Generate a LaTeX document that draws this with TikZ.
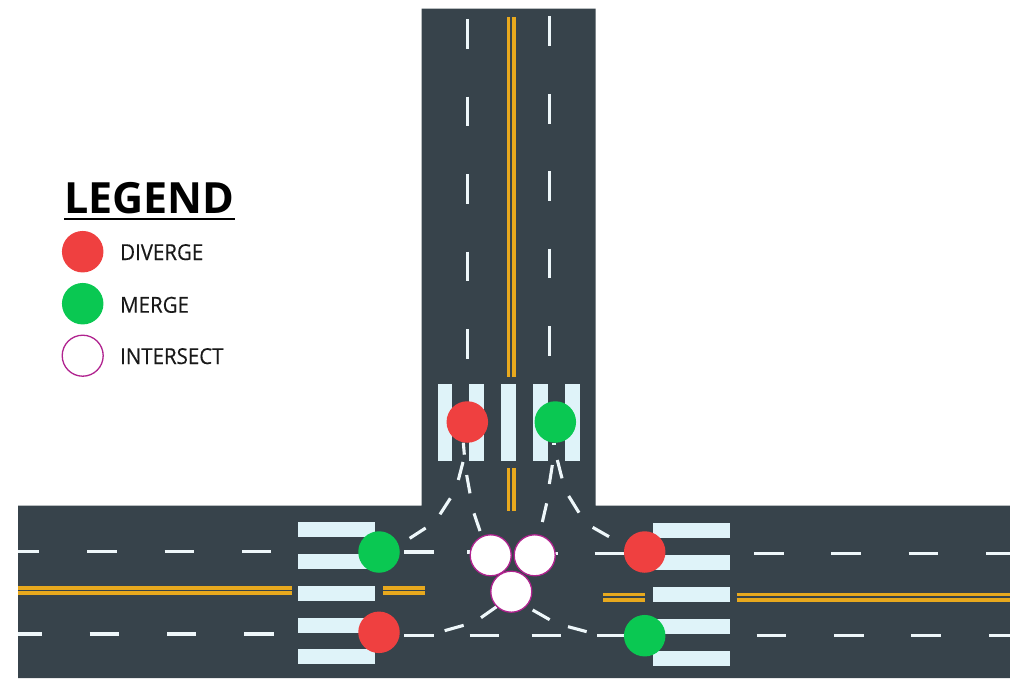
\documentclass[tikz,border=0pt]{standalone}
\usepackage{fontspec}
\setmainfont{Open Sans}
\newfontfamily\legfont[FakeStretch=0.93,FakeBold=0.25]{Open Sans}
\definecolor{road}{HTML}{37434B}
\definecolor{lane}{HTML}{EEF7FA}
\definecolor{bar}{HTML}{DFF3F9}
\definecolor{gold}{HTML}{E8A91E}
\definecolor{redc}{HTML}{EF4040}
\definecolor{greenc}{HTML}{0AC852}
\definecolor{purp}{HTML}{B0238F}
\tikzset{
  dashline/.style={draw=lane,line width=3.1pt},
  goldline/.style={draw=gold,line width=3.5pt},
  diverge/.style={circle,fill=redc,minimum size=41.5pt,inner sep=0pt},
  merge/.style={circle,fill=greenc,minimum size=41.5pt,inner sep=0pt},
  intersect/.style={circle,fill=white,draw=purp,line width=1.3pt,minimum size=41pt,inner sep=0pt},
  legendtext/.style={anchor=base west,inner sep=0pt,text=black!90,font=\fontsize{22}{24}\legfont},
  barbox/.style={fill=bar}
}
\begin{document}
\begin{tikzpicture}[x=1pt,y=-1pt]
\useasboundingbox (0,0) rectangle (1010,678);
% road
\fill[road] (421.5,8.5) -- (595.5,8.5) -- (595.5,505.5) -- (1010,505.5) -- (1010,678) -- (18,678) -- (18,505.5) -- (421.5,505.5) -- cycle;
% gold lines
\foreach \x in {508.7,514}{
  \draw[goldline] (\x,17) -- (\x,377);
  \draw[goldline] (\x,468.3) -- (\x,510.7);
}
\foreach \y in {588,593}{
  \draw[goldline] (18,\y) -- (291.7,\y);
  \draw[goldline] (383.3,\y) -- (425.3,\y);
}
\foreach \y in {594.7,600}{
  \draw[goldline] (603,\y) -- (645,\y);
  \draw[goldline] (736.7,\y) -- (1010,\y);
}
% lane dashes: vertical
\foreach \y in {19,96.7,174,251.5,329}{ \draw[dashline] (467.3,\y) -- ++(0,29.7); }
\foreach \y in {16.3,94,171.3,248.7,326}{ \draw[dashline] (549.3,\y) -- ++(0,29.7); }
% lane dashes: left
\draw[dashline] (18,551.7) -- (39.3,551.7);
\foreach \x in {87.3,164.7,242}{ \draw[dashline] (\x,551.7) -- ++(29.4,0); }
\draw[dashline] (18,634) -- (41.7,634);
\foreach \x in {89.7,167,244.3}{ \draw[dashline] (\x,634) -- ++(29.4,0); }
% lane dashes: right
\foreach \x in {754,831.3,908.7}{ \draw[dashline] (\x,553.3) -- ++(29.6,0); }
\draw[dashline] (986,553.3) -- (1010,553.3);
\foreach \x in {756.7,834,911.3}{ \draw[dashline] (\x,635.7) -- ++(29.6,0); }
\draw[dashline] (989,635.7) -- (1010,635.7);
% crosswalks
\foreach \x in {437.5,469,501,532.7,564.7}{ \fill[barbox] (\x,383.5) rectangle ++(14.8,77); }
\foreach \y in {522,554,585.7,617.7,649.3}{ \fill[barbox] (298.3,\y) rectangle ++(77,14.8); }
\foreach \y in {523.3,555.3,587.3,619,651}{ \fill[barbox] (652.7,\y) rectangle ++(77.3,14.8); }
% turning paths, in 3x coordinates of the centre crop
\begin{scope}[shift={(280,370)},x=0.33333pt,y=-0.33333pt]
\foreach \a/\b/\c/\d/\e in {
 550/218/553/254/0, 511/385/480/433/-8,
 560/315/570/370/0, 582/430/600/483/0,
 822/218/822/226/0,
 817/285/808/342/0, 800/400/787/456/0,
 373/546/461/546/0, 562/546/570/546/0,
 944/550/1032/550/0, 826/550/834/550/0,
 373/797/461/797/0, 569/797/657/797/0,
 951/797/1032/797/0, 755/797/843/797/0,
 549/276/535/330/0, 437/474/389/505/0,
 832/270/846/325/0, 866/378/897/428/0, 938/472/987/500/0,
 494/782/551/766/0, 603/743/650/710/0,
 920/785/864/770/0, 809/749/758/720/0}
 { \draw[dashline] (\a,\b) -- (\c,\d); }
\end{scope}
% conflict points
\node[diverge] (d1) at (467.3,422) {};
\node[merge] (m1) at (555.3,422) {};
\node[merge] (m2) at (379,552) {};
\node[diverge] (d2) at (379,632.3) {};
\node[diverge] (d3) at (644.7,552) {};
\node[merge] (m3) at (644.7,635.7) {};
\node[intersect] (i1) at (490.7,555.3) {};
\node[intersect] (i2) at (534.7,555.3) {};
\node[intersect] (i3) at (511.3,591.7) {};
% legend
\node[anchor=base west,inner sep=0pt,text=black,font=\fontsize{43}{46}\selectfont\bfseries] (title) at (64,213.5) {LEGEND};
\draw[black,line width=2.6pt] (64,219) -- (235,219);
\node[diverge] (ld) at (82.7,251.7) {};
\node[merge] (lm) at (82.7,303.7) {};
\node[intersect] (li) at (82.7,355.7) {};
\node[legendtext] (td) at (120,260) {DIVERGE};
\node[legendtext] (tm) at (120,312.7) {MERGE};
\node[legendtext] (ti) at (120,364) {INTERSECT};
\end{tikzpicture}
\end{document}
